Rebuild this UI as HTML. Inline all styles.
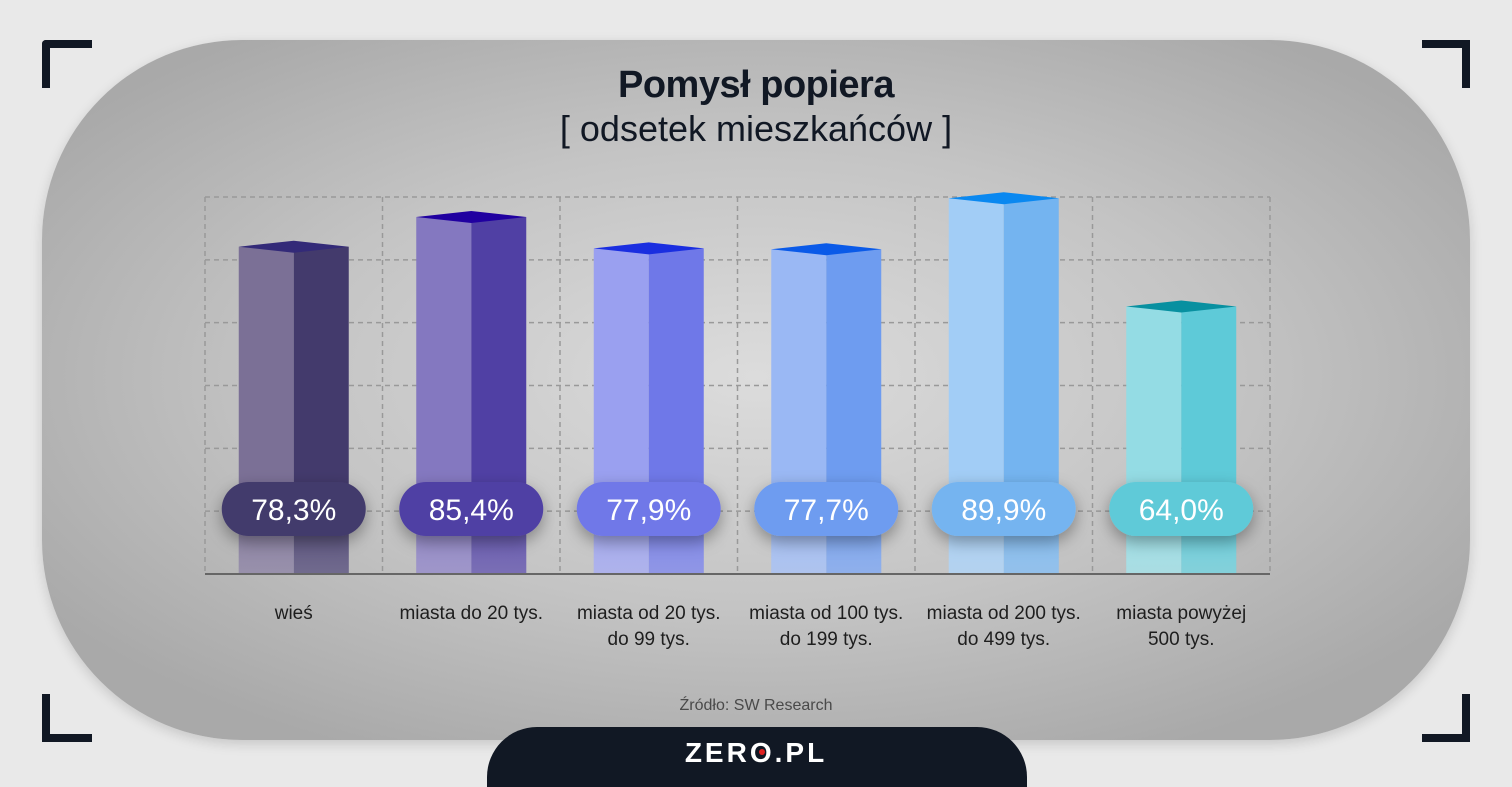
<!DOCTYPE html>
<html><head><meta charset="utf-8"><style>
body{margin:0;width:1512px;height:780px;background:#e9e9e9;overflow:hidden;position:relative;font-family:"Liberation Sans",sans-serif}
#panel{position:absolute;left:42px;top:40px;width:1428px;height:700px;border-radius:200px;background:radial-gradient(ellipse 60% 60% at 50% 48%,#dcdcdc 0%,#c4c4c4 55%,#a9a9a9 100%);box-shadow:0 4px 12px rgba(0,0,0,.15)}
.cor{position:absolute;width:40px;height:40px;border-color:#111824;border-style:solid;border-width:0}
.t{position:absolute;left:0;width:1512px;text-align:center;color:#111824}
</style></head><body>
<div id="panel"></div>
<div class="cor" style="left:42px;top:40px;border-left-width:8px;border-top-width:8px;border-top-left-radius:4px;width:42px;height:40px"></div>
<div class="cor" style="left:1422px;top:40px;border-right-width:8px;border-top-width:8px;width:40px"></div>
<div class="cor" style="left:42px;top:694px;border-left-width:8px;border-bottom-width:8px;width:42px"></div>
<div class="cor" style="left:1422px;top:694px;border-right-width:8px;border-bottom-width:8px;width:40px"></div>
<div class="t" style="top:64px;font-size:38px;font-weight:bold;letter-spacing:-0.5px">Pomysł popiera</div>
<div class="t" style="top:108px;font-size:36px">[ odsetek mieszkańców ]</div>
<svg id="chart" width="1512" height="780" style="position:absolute;left:0;top:0"></svg>
<div class="t" style="top:697px;font-size:16px;color:#4a4a4a">Źródło: SW Research</div>
<div style="position:absolute;left:487px;top:727px;width:540px;height:60px;background:#111824;border-radius:50px 50px 0 0"></div>
<div class="t" style="top:737px;font-size:28px;color:#fff;letter-spacing:3px;font-weight:bold">ZER<span style="position:relative">O<span style="position:absolute;left:9px;top:12px;width:6px;height:6px;background:#e02020;border-radius:3px"></span></span>.PL</div>
<script>
const categories=[["wieś"],["miasta do 20 tys."],["miasta od 20 tys.","do 99 tys."],["miasta od 100 tys.","do 199 tys."],["miasta od 200 tys.","do 499 tys."],["miasta powyżej","500 tys."]];
const values=[78.3,85.4,77.9,77.7,89.9,64.0];
const labels=["78,3%","85,4%","77,9%","77,7%","89,9%","64,0%"];
const leftC=["#7b7096","#8478c0","#9aa0f0","#9ab8f4","#a2cdf6","#94dce4"];
const rightC=["#433a6c","#5040a4","#6f78e8","#6e9cf0","#74b4f0","#5ecad8"];
const topC=["#332a78","#2000a0","#1a2ee0","#0a5ae8","#0a88f0","#0890a0"];
const svg=document.getElementById('chart');const NS='http://www.w3.org/2000/svg';
const X0=205,X1=1270,BASE=574,colW=(X1-X0)/6,SC=4.18;
const y=v=>BASE-v*SC;
function mk(t,a){const e=document.createElementNS(NS,t);for(const k in a)e.setAttribute(k,a[k]);svg.appendChild(e);return e;}
for(let i=0;i<=6;i++){const l=mk('line',{x1:X0+i*colW,x2:X0+i*colW,y1:197,y2:BASE,stroke:'#999','stroke-dasharray':'5 4','stroke-width':1.5});
}
for(let i=0;i<6;i++){const yy=197+i*(BASE-197)/6;const l=mk('line',{x1:X0,x2:X1,y1:yy,y2:yy,stroke:'#999','stroke-dasharray':'5 4','stroke-width':1.5});
}
const defs=mk('defs',{});
defs.innerHTML='<linearGradient id="fade" x1="0" y1="0" x2="0" y2="1"><stop offset="0" stop-color="#fff" stop-opacity="0"/><stop offset="0.75" stop-color="#fff" stop-opacity="0"/><stop offset="1" stop-color="#ddd" stop-opacity="0.3"/></linearGradient><filter id="sh" x="-30%" y="-50%" width="160%" height="220%"><feDropShadow dx="0" dy="6" stdDeviation="8" flood-opacity="0.35"/></filter>';
values.forEach((v,i)=>{
 const cx=X0+colW*(i+0.5),w=110,top=y(v),l=cx-w/2;
 const a=mk('rect',{x:l,y:top,width:w/2,height:BASE-top,fill:leftC[i]});
 const b=mk('rect',{x:cx,y:top,width:w/2,height:BASE-top,fill:rightC[i]});
 const c=mk('polygon',{points:`${l},${top} ${cx},${top-6} ${l+w},${top} ${cx},${top+6}`,fill:topC[i]});
 const f=mk('rect',{x:l,y:top,width:w,height:BASE-top,fill:'url(#fade)'});
 const p=mk('rect',{x:cx-72,y:482,width:144,height:54,rx:27,fill:rightC[i],filter:'url(#sh)'});
 const t=mk('text',{x:cx,y:520,'text-anchor':'middle','font-size':30,fill:'#fff','font-family':'Liberation Sans, sans-serif'});t.textContent=labels[i];
 categories[i].forEach((s,j)=>{const ct=mk('text',{x:cx,y:619+j*26,'text-anchor':'middle','font-size':19,fill:'#1e1e1e','font-family':'Liberation Sans, sans-serif'});ct.textContent=s;});
});
const ax=mk('line',{x1:X0,x2:X1,y1:BASE,y2:BASE,stroke:'#666','stroke-width':2});
</script>
</body></html>
